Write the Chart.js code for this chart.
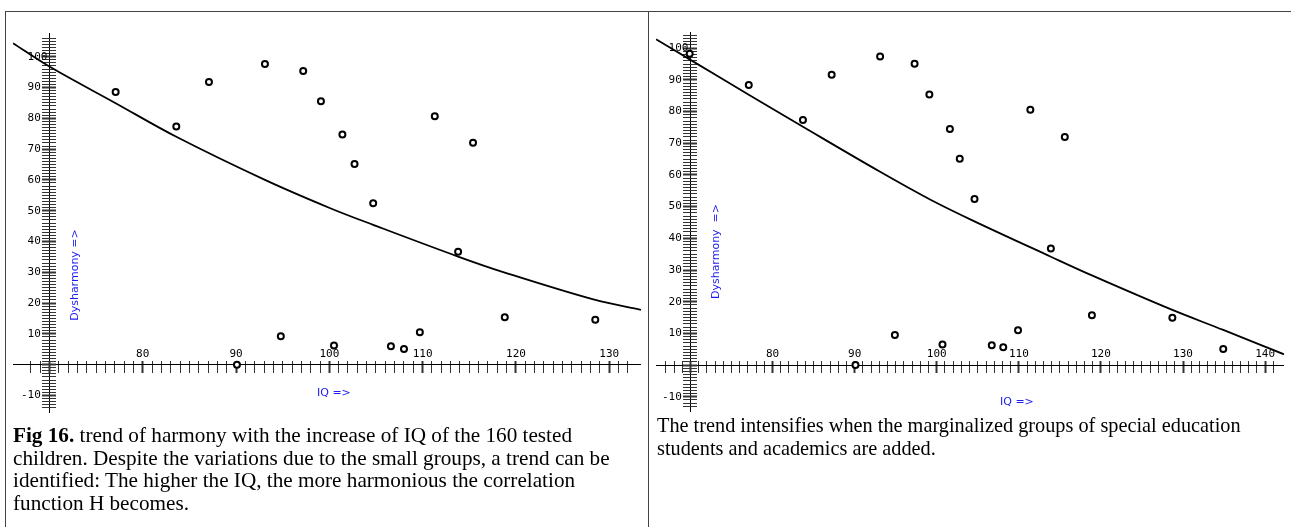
<!DOCTYPE html>
<html>
<head>
<meta charset="utf-8">
<script src="https://cdn.jsdelivr.net/npm/chart.js@4.4.1/dist/chart.umd.min.js"></script>
<style>
  body { margin: 0; background: #fff; width: 1291px; height: 527px; overflow: hidden; position: relative; }
  .panel { position: absolute; top: 11px; height: 530px; border-top: 1px solid #444; }
  #p1 { left: 5px; width: 642px; border-left: 1px solid #444; border-right: 1px solid #444; }
  #p2 { left: 648px; width: 650px; }
  .plot { position: absolute; top: 13px; width: 640px; height: 414px; }
  #c1 { left: 7px; }
  #c2 { left: 650px; }
  .caption { position: absolute; font-family: 'Liberation Serif', 'Times New Roman', serif; line-height: 22.5px; color: #000; white-space: nowrap; }
  #cap1 { left: 13px; top: 424px; font-size: 21.2px; }
  #cap2 { left: 657px; top: 414px; font-size: 20.3px; }
</style>
</head>
<body>
<div class="panel" id="p1"></div>
<div class="panel" id="p2"></div>
<canvas class="plot" id="c1" width="640" height="414"></canvas>
<canvas class="plot" id="c2" width="640" height="414"></canvas>
<div class="caption" id="cap1"><b>Fig 16.</b> trend of harmony with the increase of IQ of the 160 tested<br>children. Despite the variations due to the small groups, a trend can be<br>identified: The higher the IQ, the more harmonious the correlation<br>function H becomes.</div>
<div class="caption" id="cap2">The trend intensifies when the marginalized groups of special education<br>students and academics are added.</div>

<script>
// ── Data ──────────────────────────────────────────────────────
// Fig 16 (left): 160 tested children
const iqLeft   = [77.1, 83.6, 87.1, 93.1, 97.2, 99.1, 111.3, 101.4, 115.4, 102.7, 104.7, 113.8, 118.8, 128.5, 109.7, 100.5, 106.6, 108.0, 94.8, 90.1];
const dysLeft  = [88.5, 77.3, 91.8, 97.6, 95.4, 85.5, 80.7, 74.7, 72.1, 65.2, 52.4, 36.7, 15.4, 14.6, 10.5, 6.2, 6.0, 5.1, 9.2, 0];
const trendIqLeft  = [66.1, 70, 77.1, 83.6, 93.1, 100.1, 104.7, 113.8, 118.8, 128.5, 133.4];
const trendDysLeft = [104.4, 96.8, 84.9, 74.0, 60.0, 50.8, 45.4, 35.1, 29.9, 21.0, 17.8];

// right: with special education students and academics added
const iqRight  = [69.9, 77.1, 83.7, 87.2, 93.1, 97.3, 99.1, 101.6, 102.8, 104.6, 111.4, 115.6, 113.9, 118.9, 128.7, 134.9, 109.9, 106.7, 108.1, 94.9, 100.7, 90.1];
const dysRight = [98.2, 88.4, 77.3, 91.6, 97.4, 95.1, 85.4, 74.5, 65.1, 52.4, 80.6, 72.0, 36.8, 15.7, 14.9, 5.1, 11.0, 6.3, 5.6, 9.5, 6.5, 0];
const trendIqRight  = [65.8, 70, 77.1, 83.7, 93.1, 99.3, 104.4, 113.9, 118.9, 128.7, 134.9, 142.3];
const trendDysRight = [102.8, 96.3, 85.3, 75.2, 61.0, 52.1, 45.6, 34.2, 28.3, 17.4, 11.1, 3.4];

// axis crossing point and ranges
const IQ_ORIGIN = 70;
const rangeLeft  = { xMin: 66.1, xMax: 133.4, yMin: -15.7, yMax: 107.7 };
const rangeRight = { xMin: 65.8, xMax: 142.3, yMin: -14.8, yMax: 105.1 };

const toXY = (xs, ys) => xs.map((x, i) => ({ x, y: ys[i] }));

const isInt = (v) => Math.abs(v - Math.round(v)) < 1e-6;
const isTen = (v) => isInt(v) && Math.round(v) % 10 === 0;

// ── Axis titles drawn on the canvas ───────────────────────────
const axisTitles = {
  id: 'axisTitles',
  afterDraw(chart, args, opts) {
    const { ctx } = chart;
    ctx.save();
    ctx.fillStyle = '#1c1cf0';
    ctx.font = "11px 'DejaVu Sans', sans-serif";
    ctx.textBaseline = 'middle';
    ctx.save();
    ctx.translate(opts.y.x, opts.y.y);
    ctx.rotate(-Math.PI / 2);
    ctx.textAlign = 'center';
    ctx.fillText(opts.y.text, 0, 0);
    ctx.restore();
    ctx.textAlign = 'left';
    ctx.fillText(opts.x.text, opts.x.x, opts.x.y);
    ctx.restore();
  }
};

const tickFont = { family: "'DejaVu Sans Mono', monospace", size: 11 };
const clear = 'rgba(0,0,0,0)';

const makeChart = (canvasId, pts, trend, range, pad, titles) => {
  const xPxPerUnit = (640 - pad.left - pad.right) / (range.xMax - range.xMin);
  const yPxPerUnit = (414 - pad.top - pad.bottom) / (range.yMax - range.yMin);
  return new Chart(document.getElementById(canvasId), {
    type: 'scatter',
    data: {
      datasets: [
        {
          label: 'Groups',
          data: pts,
          pointStyle: 'circle',
          pointRadius: 3,
          pointBorderWidth: 2,
          pointBorderColor: '#000',
          pointBackgroundColor: '#fff',
          showLine: false,
        },
        {
          label: 'Trend',
          data: trend,
          showLine: true,
          borderColor: '#000',
          borderWidth: 1.8,
          pointRadius: 0,
          tension: 0.35,
          fill: false,
        }
      ]
    },
    options: {
      responsive: false,
      animation: false,
      events: [],
      layout: { padding: pad },
      plugins: {
        legend: { display: false },
        tooltip: { enabled: false },
        axisTitles: titles,
      },
      scales: {
        x: {
          type: 'linear',
          min: range.xMin,
          max: range.xMax,
          // shifted up 4px so that ticks straddle the axis line
          position: { y: 4 / yPxPerUnit },
          border: { display: false },
          grid: {
            drawOnChartArea: true,
            drawTicks: true,
            tickLength: 12,
            color: (c) => (c.tick && Math.abs(c.tick.value - IQ_ORIGIN) < 1e-6) ? '#000' : clear,
            lineWidth: 1,
            tickColor: (c) => (c.tick && isInt(c.tick.value)) ? '#333' : clear,
            tickWidth: (c) => (c.tick && isTen(c.tick.value)) ? 2 : 1,
          },
          ticks: {
            stepSize: 1,
            autoSkip: false,
            maxRotation: 0,
            minRotation: 0,
            maxTicksLimit: 500,
            mirror: true,
            padding: -12,
            color: '#000',
            font: tickFont,
            callback: (v) => (isTen(v) && Math.round(v) !== IQ_ORIGIN) ? String(Math.round(v)) : '',
          }
        },
        y: {
          type: 'linear',
          min: range.yMin,
          max: range.yMax,
          // shifted right 7px so that ticks straddle the axis line
          position: { x: IQ_ORIGIN + 7 / xPxPerUnit },
          border: { display: false },
          grid: {
            drawOnChartArea: true,
            drawTicks: true,
            tickLength: 14,
            color: (c) => (c.tick && Math.abs(c.tick.value) < 1e-6) ? '#000' : clear,
            lineWidth: 1,
            tickColor: (c) => (c.tick && isInt(c.tick.value)) ? '#333' : clear,
            tickWidth: (c) => (c.tick && isTen(c.tick.value)) ? 2 : 1,
          },
          ticks: { stepSize: 1, autoSkip: false, maxTicksLimit: 500, display: false }
        },
        // label-only copy of the y scale, placed left of the axis line
        yLab: {
          type: 'linear',
          axis: 'y',
          min: range.yMin,
          max: range.yMax,
          position: { x: IQ_ORIGIN - 2 / xPxPerUnit },
          border: { display: false },
          grid: { drawOnChartArea: false, drawTicks: false },
          ticks: {
            stepSize: 10,
            autoSkip: false,
            color: '#000',
            font: tickFont,
            callback: (v) => {
              if (!isTen(v) || Math.round(v) === 0) return '';
              const n = Math.round(v);
              return n === 100 ? '100' : n + ' ';
            },
          }
        }
      }
    },
    plugins: [axisTitles]
  });
};

makeChart('c1', toXY(iqLeft, dysLeft), toXY(trendIqLeft, trendDysLeft), rangeLeft,
  { left: 6, right: 6, top: 20, bottom: 14 },
  { y: { text: 'Dysharmony =>', x: 68, y: 262 }, x: { text: 'IQ =>', x: 310, y: 380 } });

makeChart('c2', toXY(iqRight, dysRight), toXY(trendIqRight, trendDysRight), rangeRight,
  { left: 6, right: 5, top: 19, bottom: 15 },
  { y: { text: 'Dysharmony  =>', x: 66, y: 238.5 }, x: { text: 'IQ =>', x: 350, y: 389 } });
</script>
</body>
</html>
